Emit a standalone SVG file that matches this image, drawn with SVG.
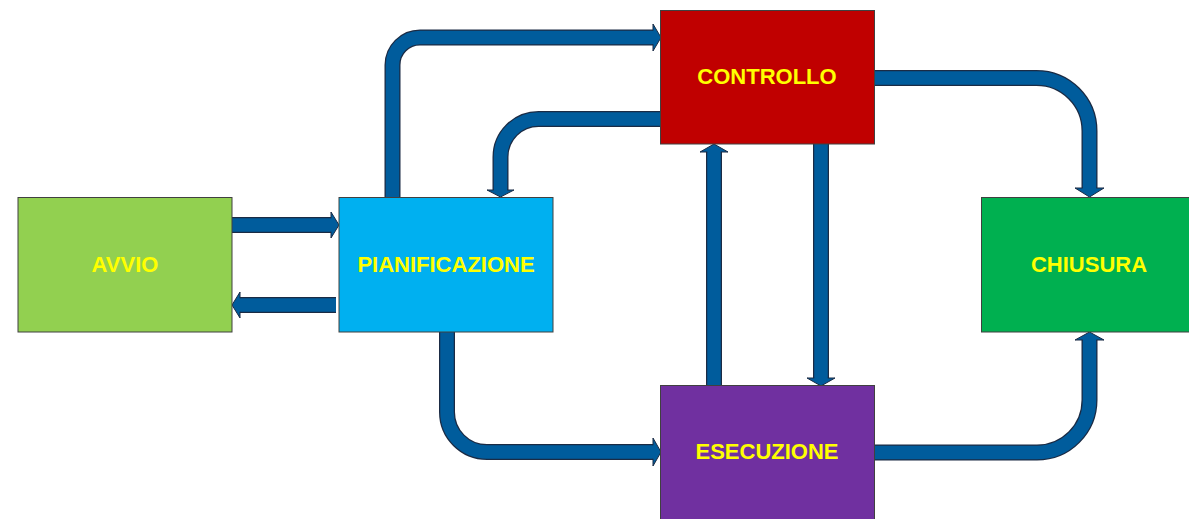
<svg xmlns="http://www.w3.org/2000/svg" width="1189" height="519" viewBox="0 0 1189 519">
<style>
.box{stroke:#404040;stroke-width:1}
.lbl{font-family:"Liberation Sans",Arial,sans-serif;font-weight:bold;font-size:22px;fill:#FFFF00;text-anchor:middle}
.out{fill:none;stroke:#1b2b44;stroke-width:16}
.band{fill:none;stroke:#005C9C;stroke-width:13.5}
.head{fill:#005C9C;stroke:#1b2b44;stroke-width:1;stroke-linejoin:miter}
</style>
<rect width="1189" height="519" fill="#ffffff"/>
<g id="connectors">
  <g id="avvio-pian">
    <path class="out" d="M232 225 H332"/><path class="band" d="M232 225 H333"/>
    <path class="head" d="M331 218.25 V212 L339 225 L331 238 V231.75"/>
  </g>
  <g id="pian-avvio">
    <path class="out" d="M336 305 H239"/><path class="band" d="M336 305 H238"/>
    <path class="head" d="M240 298.25 V292 L232 305 L240 318 V311.75"/>
  </g>
  <g id="pian-contr">
    <path class="out" d="M392.5 197 V65 A27.5 27.5 0 0 1 420 37.5 H654"/><path class="band" d="M392.5 197 V65 A27.5 27.5 0 0 1 420 37.5 H655"/>
    <path class="head" d="M653 30.75 V24 L661 37.5 L653 51 V44.25"/>
  </g>
  <g id="contr-pian">
    <path class="out" d="M660 119 H538.5 A38 38 0 0 0 500.5 157 V191"/><path class="band" d="M660 119 H538.5 A38 38 0 0 0 500.5 157 V192"/>
    <path class="head" d="M493.75 190 H487 L500.5 197 L514 190 H507.25"/>
  </g>
  <g id="contr-chius">
    <path class="out" d="M875 78 H1036.5 A53 53 0 0 1 1089.5 131 V189"/><path class="band" d="M875 78 H1036.5 A53 53 0 0 1 1089.5 131 V190"/>
    <path class="head" d="M1082.75 188 H1075 L1089.5 197 L1104 188 H1096.25"/>
  </g>
  <g id="pian-esec">
    <path class="out" d="M447 332 V412 A40 40 0 0 0 487 452 H654"/><path class="band" d="M447 332 V412 A40 40 0 0 0 487 452 H655"/>
    <path class="head" d="M653 445.25 V438 L661 452 L653 466 V458.75"/>
  </g>
  <g id="esec-contr">
    <path class="out" d="M714 385 V151"/><path class="band" d="M714 385 V150"/>
    <path class="head" d="M720.75 152 H728 L714 144 L700 152 H707.25"/>
  </g>
  <g id="contr-esec">
    <path class="out" d="M821 144 V379"/><path class="band" d="M821 144 V380"/>
    <path class="head" d="M814.25 378 H807 L821 386 L835 378 H827.75"/>
  </g>
  <g id="esec-chius">
    <path class="out" d="M875 452.5 H1037 A52.5 52.5 0 0 0 1089.5 400 V339"/><path class="band" d="M875 452.5 H1037 A52.5 52.5 0 0 0 1089.5 400 V338"/>
    <path class="head" d="M1096.25 340 H1104 L1089.5 332 L1075 340 H1082.75"/>
  </g>
</g>
<g id="avvio">
  <rect class="box" x="18" y="197.5" width="214" height="134.5" fill="#92D050"/>
  <text class="lbl" x="125" y="272">AVVIO</text>
</g>
<g id="pianificazione">
  <rect class="box" x="339" y="197.5" width="214" height="134.5" fill="#00B0F0"/>
  <text class="lbl" x="446" y="272">PIANIFICAZIONE</text>
</g>
<g id="controllo">
  <rect class="box" x="660.5" y="10.5" width="214" height="133.5" fill="#C00000"/>
  <text class="lbl" x="767" y="84">CONTROLLO</text>
</g>
<g id="esecuzione">
  <rect class="box" x="660.5" y="385.5" width="214" height="140" fill="#7030A0"/>
  <text class="lbl" x="767" y="459">ESECUZIONE</text>
</g>
<g id="chiusura">
  <rect class="box" x="981.5" y="197.5" width="214" height="134.5" fill="#00B050"/>
  <text class="lbl" x="1089" y="272">CHIUSURA</text>
</g>
</svg>
